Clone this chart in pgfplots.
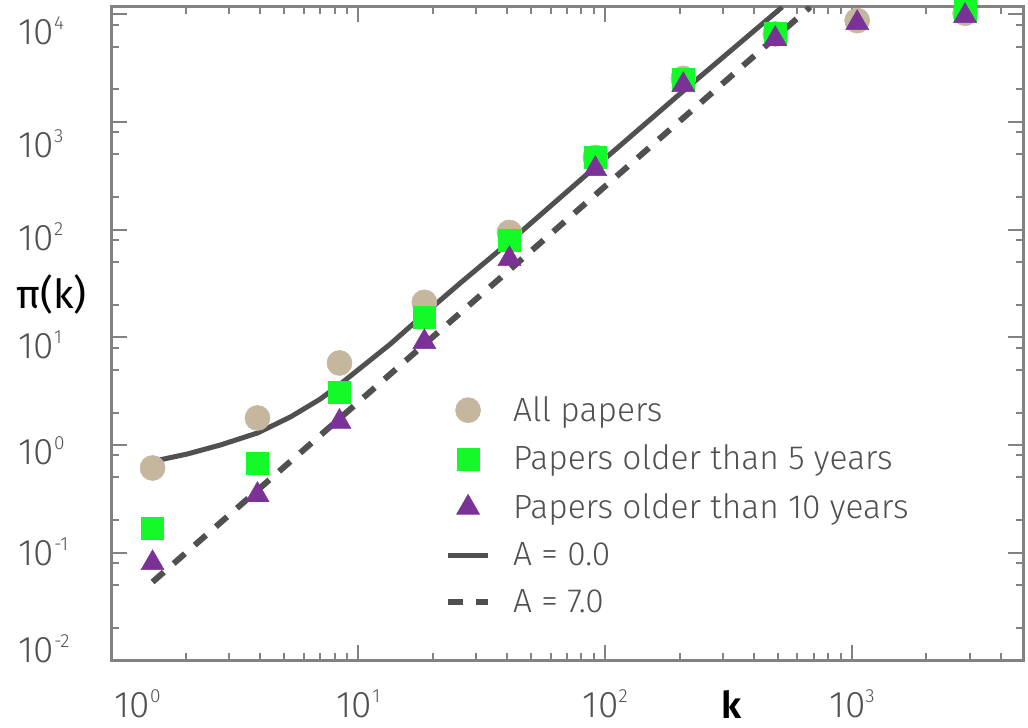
\documentclass[border=0pt]{standalone}
\usepackage{fontspec}
\setmainfont{Fira Sans}[UprightFont=* Light, BoldFont=* SemiBold]
\newfontfamily\regfont{Fira Sans}
\usepackage{pgfplots}
\pgfplotsset{compat=1.18}
\definecolor{tanc}{RGB}{197,183,158}
\definecolor{limec}{RGB}{20,250,40}
\definecolor{purpc}{RGB}{122,50,150}
\definecolor{linegray}{RGB}{80,80,80}
\definecolor{axisgray}{RGB}{130,130,130}
\definecolor{labelgray}{RGB}{80,80,80}
\newcommand{\sups}[1]{\raisebox{7.5pt}{\fontsize{9.5}{9.5}\selectfont #1}}
\newcommand{\ytl}[2]{\raisebox{#1}[\height][\depth]{10\sups{#2}}}
\begin{document}
\begin{tikzpicture}
\begin{axis}[
  scale only axis, width=455.5pt, height=326.5pt,
  xmode=log, ymode=log,
  xmin=1, xmax=4920, ymin=0.01, ymax=11660,
  axis line style={draw=axisgray, line width=1.5pt},
  every tick/.style={draw=axisgray, line width=1pt},
  major tick length=7.5pt, minor tick length=3.5pt,
  tick align=inside,
  xtick={1,10,100,1000},
  xticklabels={{\hspace{26pt}10\sups{0}}, 10\sups{1}, 10\sups{2}, 10\sups{3}},
  minor xtick={2,3,4,5,6,7,8,9,20,30,40,50,60,70,80,90,200,300,400,500,600,700,800,900,2000,3000,4000},
  ytick={0.01,0.1,1,10,100,1000,10000},
  yticklabels={{\ytl{5.75pt}{-2}},{\ytl{0.5pt}{-1}},{\ytl{-2.75pt}{0}},{\ytl{-4pt}{1}},{\ytl{-3.75pt}{2}},{\ytl{-11pt}{3}},{\ytl{-8.5pt}{4}}},
  minor ytick={0.02,0.05,0.08,0.2,0.5,0.8,2,5,8,20,50,80,200,500,800,2000,5000,8000},
  xticklabel style={font=\fontsize{18.5}{18.5}\selectfont, text=labelgray, inner sep=0pt, anchor=north, yshift=-14.5pt},
  yticklabel style={font=\fontsize{18.5}{18.5}\selectfont, text=labelgray, inner sep=0pt, anchor=west, xshift=-46.75pt},
  xlabel={k},
  xlabel style={at={(axis description cs:0.6806,-0.0675)}, anchor=center, font=\bfseries\fontsize{18.5}{18.5}\selectfont, text=black, inner sep=0pt},
  ylabel={π(k)},
  ylabel style={rotate=-90, at={(axis description cs:-0.0659,0.5605)}, anchor=center, font=\regfont\fontsize{20}{20}\selectfont, text=black, inner sep=0pt},
  legend style={at={(axis description cs:0.3655,0.411)}, anchor=north west, draw=none, fill=none, font=\fontsize{16.75}{20}\selectfont, text=labelgray, row sep=6.4pt, column sep=9pt, inner sep=0pt},
  legend cell align=left,
  legend image code/.code={\draw[mark repeat=2,mark phase=2,#1] plot coordinates {(0pt,0pt) (10pt,0pt) (20pt,0pt)};},
]
\addplot[only marks, mark=*, mark size=6.25pt, mark options={draw=tanc, fill=tanc, line width=0.3pt}] coordinates {
(1.466,0.611) (3.901,1.78) (8.38,5.77) (18.5,21.1) (40.9,94) (91.1,467) (207,2530) (488,6550) (1048,8720) (2866,10200)};
\addlegendentry{All papers}
\addplot[only marks, mark=square*, mark size=5.5pt, mark options={draw=limec, fill=limec, line width=0.3pt}] coordinates {
(1.466,0.170) (3.901,0.681) (8.38,3.11) (18.5,15.4) (40.9,80) (91.1,472) (207,2500) (488,6620) (2866,10940)};
\addlegendentry{Papers older than 5 years}
\addplot[only marks, mark=triangle*, mark size=6.6pt, mark options={draw=purpc, fill=purpc, line width=0.3pt}] coordinates {
(1.466,0.080) (3.901,0.344) (8.38,1.64) (18.5,9.04) (40.9,53.3) (91.1,365) (207,2200) (488,5890) (1048,8280) (2866,9620)};
\addlegendentry{Papers older than 10 years}
\addplot[no marks, line width=2.5pt, color=linegray] coordinates {
(1.466,0.703) (2.031,0.825) (2.763,1.000) (3.901,1.292) (5.305,1.820) (7.018,2.674) (8.456,3.685) (11.19,6.155) (13.48,8.665) (18.50,16.46) (25.88,31.93) (40.87,76.72) (91.10,381.3) (206.9,1936) (520.8,11665)};
\addlegendentry{A = 0.0}
\addplot[no marks, line width=3pt, dash pattern=on 7.5pt off 6.5pt, color=linegray] coordinates {
(1.466,0.0534) (676,11660)};
\addlegendentry{A = 7.0}
\coordinate (bl) at (rel axis cs:0,0);
\coordinate (tr) at (rel axis cs:1,1);
\end{axis}
\pgfresetboundingbox
\path[use as bounding box] ([xshift=-55.75pt,yshift=-33.5pt]bl) rectangle ([xshift=2.5pt,yshift=3.5pt]tr);
\end{tikzpicture}
\end{document}
